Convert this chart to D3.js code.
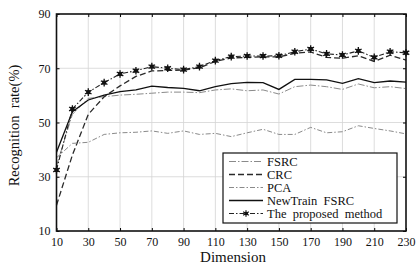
<!DOCTYPE html>
<html>
<head>
<meta charset="utf-8">
<script src="https://cdn.jsdelivr.net/npm/d3@7"></script>
<style>
body { margin: 0; background: #fff; }
text { font-family: "Liberation Serif", "DejaVu Serif", serif; fill: #111; }
</style>
</head>
<body>
<svg id="chart" width="416" height="268"></svg>
<script>
// dimension on the x axis
var dims = [10,20,30,40,50,60,70,80,90,100,110,120,130,140,150,160,170,180,190,200,210,220,230];

var fsrc     = [34,53,58.9,59.5,60.1,60.4,60.8,61.2,61.2,61,62,62.4,61.7,62,60.5,63.2,63.8,63.2,62.2,64.2,62.8,63.2,62.5];
var crc      = [19.5,38,53,59.5,63.5,67,69,69.2,69.3,70.2,72.5,73.8,74,74.2,74.2,75.5,76,74,73.7,74.6,72.5,74.8,73];
var pca      = [37,42.3,42.7,45.6,46.2,46.4,46.9,46,46.9,45.6,46,44.8,46.2,47.5,45.6,45.6,48.2,46.2,46.6,48.8,47.8,46.9,45.8];
var newTrain = [39,54,58.3,60.1,61.4,62,63.4,62.9,62.6,61.7,63.2,64.3,64.8,64.7,62.2,65.9,65.9,65.7,64.4,66.2,64.7,65.3,64.9];
var proposed = [32.5,55,61.2,64.7,67.9,69.1,70.6,70,69.5,70.6,72.8,74.3,74.5,74.5,74.6,76.1,77.1,75.3,74.9,76.4,74,76.1,75.7];

var seriesNames = ["FSRC", "CRC", "PCA", "NewTrain  FSRC", "The  proposed  method"];
var xTicks = [10,30,50,70,90,110,130,150,170,190,210,230];
var yTicks = [10,30,50,70,90];

var series = [
  {name: seriesNames[0], values: fsrc,     color: "#8a8a8a", dash: "7,2,1.5,2", width: 1},
  {name: seriesNames[1], values: crc,      color: "#2a2a2a", dash: "6,3",       width: 1.3},
  {name: seriesNames[2], values: pca,      color: "#8a8a8a", dash: "5,2,1.5,2", width: 1},
  {name: seriesNames[3], values: newTrain, color: "#111",    dash: null,        width: 1.3},
  {name: seriesNames[4], values: proposed, color: "#222",    dash: "5,2,1.5,2", width: 1.1, marker: true}
];

var margin = {top: 14, right: 10, bottom: 37, left: 56.5};
var width = 416, height = 268;

var svg = d3.select("#chart");

var x = d3.scaleLinear().domain([10, 230]).range([margin.left, width - margin.right]);
var y = d3.scaleLinear().domain([10, 90]).range([height - margin.bottom, margin.top]);

// grid
svg.append("g").selectAll("line").data(xTicks.slice(1, -1)).join("line")
  .attr("x1", d => x(d)).attr("x2", d => x(d))
  .attr("y1", y(10)).attr("y2", y(90))
  .attr("stroke", "#d4d4d4").attr("stroke-width", 0.8);
svg.append("g").selectAll("line").data(yTicks.slice(1, -1)).join("line")
  .attr("x1", x(10)).attr("x2", x(230))
  .attr("y1", d => y(d)).attr("y2", d => y(d))
  .attr("stroke", "#d4d4d4").attr("stroke-width", 0.8);

// axes with inward ticks on all sides
svg.append("g")
  .attr("transform", `translate(0,${y(10)})`)
  .call(d3.axisBottom(x).tickValues(xTicks).tickSize(-3).tickPadding(6).tickSizeOuter(0))
  .call(g => g.select(".domain").remove())
  .call(g => g.selectAll("text").attr("font-size", 12));
svg.append("g")
  .attr("transform", `translate(0,${y(90)})`)
  .call(d3.axisTop(x).tickValues(xTicks).tickSize(-3).tickFormat("").tickSizeOuter(0))
  .call(g => g.select(".domain").remove());
svg.append("g")
  .attr("transform", `translate(${x(10)},0)`)
  .call(d3.axisLeft(y).tickValues(yTicks).tickSize(-3).tickPadding(6).tickSizeOuter(0))
  .call(g => g.select(".domain").remove())
  .call(g => g.selectAll("text").attr("font-size", 12));
svg.append("g")
  .attr("transform", `translate(${x(230)},0)`)
  .call(d3.axisRight(y).tickValues(yTicks).tickSize(-3).tickFormat("").tickSizeOuter(0))
  .call(g => g.select(".domain").remove());

// lines
var line = d3.line().x((d, i) => x(dims[i])).y(d => y(d));

series.forEach(function(s) {
  svg.append("path")
    .datum(s.values)
    .attr("fill", "none")
    .attr("stroke", s.color)
    .attr("stroke-width", s.width)
    .attr("stroke-dasharray", s.dash)
    .attr("d", line);
  if (s.marker) {
    var m = svg.append("g").selectAll("g").data(s.values).join("g")
      .attr("transform", (d, i) => `translate(${x(dims[i])},${y(d)})`);
    m.append("path").attr("d", d3.symbol(d3.symbolAsterisk, 40)).attr("stroke", "#111").attr("stroke-width", 1.3).attr("fill", "none");
    m.append("rect").attr("x", -2).attr("y", -2).attr("width", 4).attr("height", 4).attr("fill", "#111");
  }
});

// frame
svg.append("rect")
  .attr("x", x(10)).attr("y", y(90))
  .attr("width", x(230) - x(10)).attr("height", y(10) - y(90))
  .attr("fill", "none").attr("stroke", "#111").attr("stroke-width", 1.6);

// legend
var lg = svg.append("g").attr("transform", "translate(223,153)");
lg.append("rect").attr("width", 174).attr("height", 70)
  .attr("fill", "#fff").attr("stroke", "#111").attr("stroke-width", 1.2);
series.forEach(function(s, i) {
  var yy = 8.5 + i * 13;
  lg.append("line").attr("x1", 6).attr("x2", 40).attr("y1", yy).attr("y2", yy)
    .attr("stroke", s.color).attr("stroke-width", s.width).attr("stroke-dasharray", s.dash);
  if (s.marker) {
    lg.append("path").attr("transform", `translate(23,${yy})`)
      .attr("d", d3.symbol(d3.symbolAsterisk, 30)).attr("stroke", "#111").attr("stroke-width", 1.2).attr("fill", "none");
    lg.append("rect").attr("x", 21.5).attr("y", yy - 1.5).attr("width", 3).attr("height", 3).attr("fill", "#111");
  }
  lg.append("text").attr("x", 44).attr("y", yy).attr("dy", "0.35em")
    .attr("font-size", 12.5).style("white-space", "pre").text(s.name);
});

// axis titles
svg.append("text")
  .attr("x", 233).attr("y", 262)
  .attr("text-anchor", "middle").attr("font-size", 15)
  .text("Dimension");
svg.append("text")
  .attr("transform", `translate(19,${y(50) + 3}) rotate(-90)`)
  .attr("text-anchor", "middle").attr("font-size", 14.5)
  .style("white-space", "pre")
  .text("Recognition  rate(%)");
</script>
</body>
</html>
